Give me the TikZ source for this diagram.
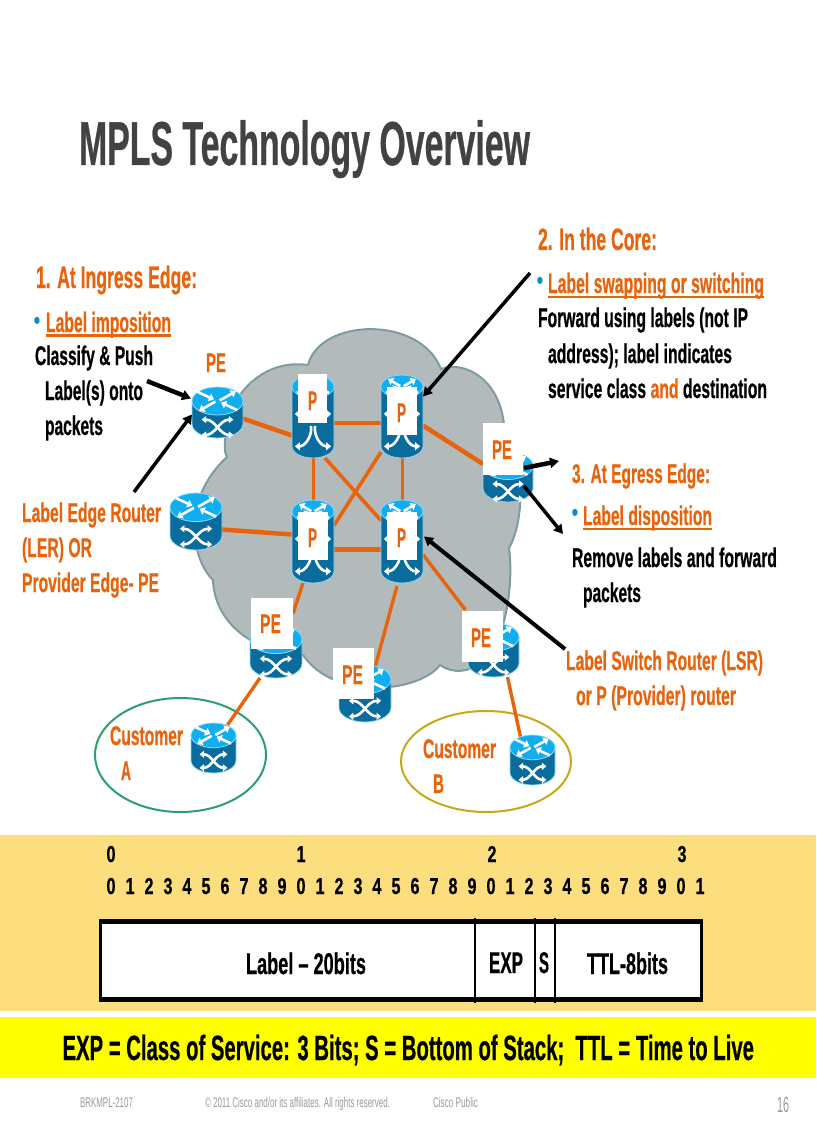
\documentclass[tikz,border=0pt]{standalone}
\usepackage{graphicx}
\usepackage{fontspec}
\setmainfont[BoldFeatures={FakeBold=0.7}]{Liberation Sans}
\usetikzlibrary{arrows.meta,calc}
\definecolor{tc}{HTML}{E8640C}
\definecolor{titlec}{HTML}{424242}
\definecolor{bul}{HTML}{0A8CC8}
\definecolor{cloudf}{HTML}{B2BABB}
\definecolor{cloudd}{HTML}{7E9C9E}
\definecolor{band}{HTML}{FCDE7E}
\definecolor{lemon}{HTML}{FFFF00}
\definecolor{gft}{HTML}{9A9A9A}
\definecolor{rbody}{HTML}{0A6C9C}
\definecolor{topc}{HTML}{10AEEF}
\definecolor{halo}{HTML}{8FD8F5}
\definecolor{greenc}{HTML}{2E9E6E}
\definecolor{yelc}{HTML}{C8A818}
\tikzset{
 txt/.style={inner sep=0pt,outer sep=0pt},
 rnode/.style={inner sep=0pt,outer sep=0pt,rectangle},
 link/.style={draw=tc,line width=#1},
 link/.default=4.5pt,
 pointer/.style={draw=black,line width=#1,-{Triangle[length=9pt,width=10pt]}},
 pointer/.default=3.5pt,
 uline/.style={draw=tc,line width=2.8pt},
 icon/.style={draw=white,line width=2.6pt},
 arrowicon/.style={icon,-{Triangle[length=5pt,width=8pt]}},
 doubleicon/.style={icon,{Triangle[length=4.5pt,width=7pt]}-{Triangle[length=4.5pt,width=7pt]}},
}
\newsavebox\tbox
\newcommand\TT[8]{%
 \node[txt,anchor=base west] (#1) at (#2,#3) {%
 \sbox\tbox{\fontsize{#5}{#5}#7\selectfont\textcolor{#6}{#8}}%
 \edef\tw{\the\wd\tbox}%
 \pgfmathsetmacro\tsc{#4/\tw}%
 \scalebox{\tsc}[1]{\usebox\tbox}};}
\newcommand\TB[7]{\TT{#1}{#2}{#3}{#4}{#5}{#6}{\bfseries}{#7}}
\newcommand\TR[7]{\TT{#1}{#2}{#3}{#4}{#5}{#6}{\mdseries}{#7}}
\newcommand\bulletmark[3]{\node[txt] (#1) at (#2,#3) {\scalebox{.75}[1]{\textcolor{bul}{\fontsize{26}{26}\selectfont •}}};}
\newcommand\rdef[5]{\node[rnode,minimum width=#4pt,minimum height=#5pt] (#1) at (#2,#3) {};}
% router art: cx cy w h
\newcommand\rbase[4]{%
 \pgfmathsetmacro\hh{#4/#3-0.55}%
 \fill[rbody,draw=halo,line width=.8pt] (-1,\hh) -- (-1,-\hh) arc[start angle=180,end angle=360,x radius=1,y radius=.55] -- (1,\hh) -- cycle;
 \fill[topc,draw=halo,line width=.8pt] (0,\hh) ellipse[x radius=1,y radius=.55];}
\newcommand\rart[4]{\pgfmathsetmacro\ru{#3/2}%
 \begin{scope}[shift={(#1,#2)},x=\ru pt,y=\ru pt]
 \rbase{#1}{#2}{#3}{#4}
 \draw[arrowicon] (.08,\hh+.02) -- (.72,\hh+.38);
 \draw[arrowicon] (-.08,\hh-.02) -- (-.72,\hh-.38);
 \draw[arrowicon] (-.78,\hh+.36) -- (-.14,\hh+.06);
 \draw[arrowicon] (.78,\hh-.36) -- (.14,\hh-.06);
 \draw[doubleicon] (-.62,-.28) to[out=0,in=180] (.62,-.88);
 \draw[doubleicon] (-.62,-.88) to[out=0,in=180] (.62,-.28);
 \end{scope}}
\newcommand\prart[4]{\pgfmathsetmacro\ru{#3/2}%
 \begin{scope}[shift={(#1,#2)},x=\ru pt,y=\ru pt]
 \rbase{#1}{#2}{#3}{#4}
 \draw[arrowicon] (.08,\hh+.02) -- (.66,\hh+.36);
 \draw[arrowicon] (-.08,\hh+.02) -- (-.66,\hh+.36);
 \draw[arrowicon] (.76,\hh-.3) -- (.16,\hh-.02);
 \draw[arrowicon] (-.76,\hh-.3) -- (-.16,\hh-.02);
 \draw[arrowicon] (-.1,-.45) to[out=-80,in=0] (-.86,-1.42);
 \draw[arrowicon] (.1,-.45) to[out=-100,in=180] (.86,-1.42);
 \fill[white] (-.62,.35) -- (-.86,.12) -- (-.62,-.1) -- cycle;
 \fill[white] (.62,.35) -- (.86,.12) -- (.62,-.1) -- cycle;
 \end{scope}}
\newcommand\wbox[4]{\fill[white] (#1,#2) rectangle (#3,#4);}
\begin{document}
\begin{tikzpicture}[x=1pt,y=-1pt]
\useasboundingbox (0,0) rectangle (816,1123);
\fill[white] (0,0) rectangle (816,1123);
% bands
\fill[band] (0,835) rectangle (816,1011);
\fill[lemon] (0,1017) rectangle (816,1078);
% cloud
\filldraw[fill=cloudf,draw=cloudd,line width=2pt,line join=round]
 (308,365) .. controls (320,318) and (420,315) .. (441,369)
 .. controls (465,360) and (500,380) .. (504,425)
 .. controls (525,460) and (525,520) .. (509,548)
 .. controls (512,570) and (510,600) .. (503,625)
 .. controls (500,650) and (470,685) .. (440,665)
 .. controls (420,692) and (335,702) .. (303,655)
 .. controls (265,655) and (215,630) .. (213,580)
 .. controls (192,560) and (180,500) .. (227,457)
 .. controls (224,452) and (225,446) .. (225,440)
 .. controls (225,400) and (260,358) .. (308,365) -- cycle;
% customer ellipses
\draw[greenc,line width=2pt] (180.5,755) ellipse[x radius=85.5,y radius=57];
\draw[yelc,line width=2pt] (486,761.5) ellipse[x radius=85,y radius=50.5];
% router nodes
\rdef{pea}{217.5}{412.5}{51}{51}
\rdef{ler}{196}{521.5}{52}{57}
\rdef{pa}{313}{416.5}{42}{83}
\rdef{pb}{402}{416.5}{42}{83}
\rdef{pc}{313}{541.5}{42}{83}
\rdef{pd}{402}{541.5}{42}{83}
\rdef{peb}{508}{477}{50}{50}
\rdef{pec}{276}{651.5}{52}{53}
\rdef{ped}{365}{693.5}{52}{57}
\rdef{pee}{493.5}{650}{51}{54}
\rdef{ca}{213.5}{748}{45}{50}
\rdef{cb}{532.5}{760}{45}{50}
% links
\draw[link] ([shift={(0,6)}]pea.east) -- ([shift={(0,19)}]pa.west);
\draw[link] ([shift={(0,6.5)}]pa.east) -- ([shift={(0,6.5)}]pb.west);
\draw[link] ([shift={(0,9)}]pb.east) -- ([shift={(0,-13)}]peb.west);
\draw[link=3pt] (pa.south) -- (pc.north);
\draw[link=3pt] (pb.south) -- (pd.north);
\draw[link=3.6pt] ([shift={(12,0)}]pa.south) -- ([shift={(0,-21)}]pd.west);
\draw[link=3.6pt] ([shift={(-21,-6)}]pb.south) -- ([shift={(0,-16)}]pc.east);
\draw[link] ([shift={(0,8)}]ler.east) -- ([shift={(0,-7)}]pc.west);
\draw[link=5pt] ([shift={(0,8)}]pc.east) -- ([shift={(0,8)}]pd.west);
\draw[link=3.4pt] ([shift={(-10,0)}]pc.south) -- ([shift={(17,-38)}]pec.center);
\draw[link=3.4pt] ([shift={(-5,3)}]pd.south) -- ([shift={(10,-26)}]ped.center);
\draw[link=3.4pt] ([shift={(0,13)}]pd.east) -- ([shift={(-28,-40)}]pee.center);
\draw[link=3.4pt] ([shift={(-16,0)}]pec.south) -- ([shift={(14,2)}]ca.north);
\draw[link=3.4pt] ([shift={(14,0)}]pee.south) -- ([shift={(-12,2)}]cb.north);
% routers
\rart{217.5}{412.5}{51}{51}
\rart{196}{521.5}{52}{57}
\prart{313}{416.5}{42}{83}
\prart{402}{416.5}{42}{83}
\prart{313}{541.5}{42}{83}
\prart{402}{541.5}{42}{83}
\rart{508}{477}{50}{50}
\rart{276}{651.5}{52}{53}
\rart{365}{693.5}{52}{57}
\rart{493.5}{650}{51}{54}
\rart{213.5}{748}{45}{50}
\rart{532.5}{760}{45}{50}
% white label boxes
\wbox{298}{374}{327}{423}
\wbox{387}{387}{417}{435}
\wbox{298}{512}{328}{560}
\wbox{387}{512}{417}{560}
\wbox{483}{423}{523}{475}
\wbox{251}{598}{293}{649}
\wbox{333}{648}{374}{699}
\wbox{462}{611}{503}{662}
% device labels
\TB{lpe}{206}{372}{20}{27}{tc}{PE}
\TB{lpa}{308}{410}{9}{27}{tc}{P}
\TB{lpb}{397}{422}{9}{27}{tc}{P}
\TB{lpc}{308}{547}{9}{27}{tc}{P}
\TB{lpd}{397}{547}{9}{27}{tc}{P}
\TB{lpeb}{492}{459}{20}{27}{tc}{PE}
\TB{lpec}{260}{633}{21}{27}{tc}{PE}
\TB{lped}{342}{684}{21}{27}{tc}{PE}
\TB{lpee}{471}{647}{20}{27}{tc}{PE}
\TB{cua}{110}{745}{73}{27}{tc}{Customer}
\TB{cuaa}{121}{780}{10}{27}{tc}{A}
\TB{cub}{423}{758}{73}{27}{tc}{Customer}
\TB{cubb}{433}{793}{11}{27}{tc}{B}
% title
\TB{title}{79}{165}{451}{62}{titlec}{MPLS Technology Overview}
% left texts
\TB{h1}{36}{288}{161}{31}{tc}{1. At Ingress Edge:}
\bulletmark{b1}{37}{323}
\TB{l1}{46}{332}{125}{28}{tc}{Label imposition}
\draw[uline] ([yshift=-3.5pt]l1.base west) -- ([yshift=-3.5pt]l1.base east);
\TB{c1}{35}{365}{118}{27}{black}{Classify \& Push}
\TB{c2}{45}{400}{98}{27}{black}{Label(s) onto}
\TB{c3}{45}{435}{58}{27}{black}{packets}
\TB{e1}{22}{522}{139}{27}{tc}{Label Edge Router}
\TB{e2}{22}{557}{70}{27}{tc}{(LER) OR}
\TB{e3}{22}{592}{137}{27}{tc}{Provider Edge- PE}
% core texts
\TB{h2}{538}{250}{119}{31}{tc}{2. In the Core:}
\bulletmark{b2}{540}{283}
\TB{l2}{548}{293}{216}{28}{tc}{Label swapping or switching}
\draw[uline] ([yshift=-4pt]l2.base west) -- ([yshift=-4pt]l2.base east);
\TB{f1}{538}{327}{210}{27}{black}{Forward using labels (not IP}
\TB{f2}{548}{363}{184}{27}{black}{address); label indicates}
\TB{f3}{548}{398}{219}{27}{black}{service class \textcolor{tc}{and} destination}
% egress
\TB{h3}{572}{483}{138}{27}{tc}{3. At Egress Edge:}
\bulletmark{b3}{575}{515}
\TB{l3}{583}{525}{129}{27}{tc}{Label disposition}
\draw[uline] ([yshift=-4pt]l3.base west) -- ([yshift=-4pt]l3.base east);
\TB{r1}{572}{567}{205}{27}{black}{Remove labels and forward}
\TB{r2}{583}{602}{58}{27}{black}{packets}
\TB{s1}{566}{670}{197}{27}{tc}{Label Switch Router (LSR)}
\TB{s2}{576}{705}{160}{27}{tc}{or P (Provider) router}
% pointers
\coordinate (fa) at (147,381);
\coordinate (fb) at (134,492);
\coordinate (fc) at (530,273);
\coordinate (fd) at (559,461);
\coordinate (fe) at (563,534);
\coordinate (ff) at (565,649);
\draw[pointer=4.5pt] (fa) -- ([shift={(-1,-14)}]pea.west);
\draw[pointer] (fb) -- ([shift={(0,2)}]pea.west);
\draw[pointer] (fc) -- ([shift={(0,-20)}]pb.east);
\draw[pointer=4.5pt] ([shift={(-9,-9)}]peb.east) -- (fd);
\draw[pointer] ([shift={(-9,9)}]peb.east) -- (fe);
\draw[pointer=4pt] (ff) -- ([shift={(1,-5)}]pd.east);
% bit ruler
\TB{ba}{106.5}{862}{9}{23}{black}{0}
\TB{bb}{296.5}{862}{9}{23}{black}{1}
\TB{bc}{487.5}{862}{9}{23}{black}{2}
\TB{bd}{677.5}{862}{9}{23}{black}{3}
\foreach \i in {0,...,31}{
 \pgfmathsetmacro\xx{106.5+19*\i}
 \pgfmathtruncatemacro\dd{mod(\i,10)}
 \TB{bit\i}{\xx}{894}{9}{23}{black}{\dd}
}
% packet
\fill[black] (99,919) rectangle (703,1002);
\fill[white] (102,924) rectangle (700,997);
\draw[black,line width=2pt] (475,918) -- (475,1003);
\draw[black,line width=2pt] (535,918) -- (535,1003);
\draw[black,line width=2pt] (555,918) -- (555,1003);
\TB{pk1}{246}{974}{120}{30}{black}{Label – 20bits}
\TB{pk2}{489}{973}{34}{30}{black}{EXP}
\TB{pk3}{539}{973}{10}{30}{black}{S}
\TB{pk4}{587}{974}{81}{30}{black}{TTL-8bits}
\TB{leg}{62.5}{1060}{691.5}{35}{black}{EXP = Class of Service: 3 Bits; S = Bottom of Stack;\ \ TTL = Time to Live}
% footer
\TR{fo1}{80}{1107}{53}{14}{gft}{BRKMPL-2107}
\TR{fo2}{205}{1107}{185}{14}{gft}{© 2011 Cisco and/or its affiliates. All rights reserved.}
\TR{fo3}{433}{1107}{45}{14}{gft}{Cisco Public}
\TR{fo4}{777}{1112}{12}{22}{gft}{16}
\end{tikzpicture}
\end{document}
